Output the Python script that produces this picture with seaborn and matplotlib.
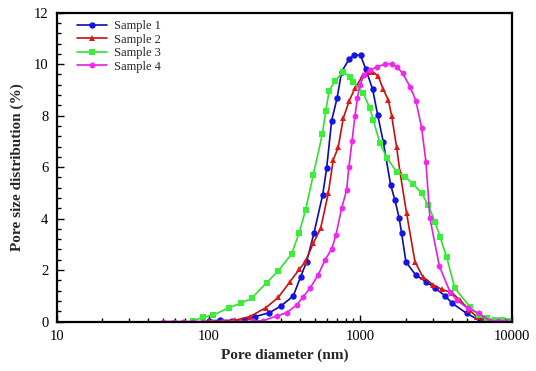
import numpy as np
import pandas as pd
import matplotlib
matplotlib.use("Agg")
import matplotlib.pyplot as plt
import seaborn as sns
from matplotlib.ticker import FixedLocator, FixedFormatter, MultipleLocator, LogLocator, NullFormatter

# ---------------- data ----------------
labels = ["Sample 1", "Sample 2", "Sample 3", "Sample 4"]

s1_x = [100, 119, 142, 170, 202, 251, 299, 361, 404, 442, 494, 564, 599, 646, 703, 752,
        844, 910, 1002, 1086, 1203, 1298, 1413, 1580, 1687, 1800, 1867, 1993, 2308,
        2700, 3100, 3600, 4018, 5000, 6100]
s1_y = [0.02, 0.05, 0.03, 0.05, 0.19, 0.34, 0.60, 0.99, 1.74, 2.32, 3.43, 4.92, 5.95, 7.80, 8.70, 9.71,
        10.20, 10.36, 10.34, 9.80, 9.02, 8.03, 6.99, 5.31, 4.72, 4.01, 3.43, 2.32, 1.81,
        1.55, 1.30, 1.00, 0.71, 0.32, 0.04]

s2_x = [100, 125, 150, 187, 239, 288, 344, 396, 433, 489, 547, 614, 662, 714, 771, 844, 920,
        1043, 1120, 1200, 1309, 1413, 1525, 1606, 1729, 1820, 2014, 2287, 2574, 3013,
        3424, 3985, 4518, 5203, 5818, 6433]
s2_y = [0.02, 0.03, 0.05, 0.19, 0.54, 0.94, 1.55, 2.03, 2.32, 3.04, 3.62, 4.98, 6.28, 6.77, 7.90, 8.58, 9.06,
        9.58, 9.71, 9.71, 9.54, 9.02, 8.61, 7.99, 6.79, 5.82, 4.20, 2.32, 1.74, 1.42,
        1.25, 1.12, 0.84, 0.45, 0.19, 0.09]

s3_x = [79, 92, 107, 137, 163, 192, 241, 288, 352, 394, 435, 489, 561, 591, 623, 680, 770, 853,
        897, 1043, 1155, 1215, 1343, 1500, 1728, 1964, 2228, 2531, 2795, 3093, 3337, 3690,
        4188, 5300, 6000, 6800, 7700, 8600, 9600]
s3_y = [0.03, 0.16, 0.25, 0.54, 0.71, 0.90, 1.51, 1.97, 2.62, 3.43, 4.33, 5.69, 7.28, 8.18, 8.97, 9.36, 9.69, 9.51,
        9.32, 8.87, 8.29, 7.83, 6.93, 6.34, 5.82, 5.63, 5.34, 4.98, 4.53, 3.88, 3.30, 2.52,
        1.29, 0.55, 0.25, 0.12, 0.06, 0.04, 0.02]

s4_x = [50, 59, 68, 79, 92, 106, 123, 142, 162, 196, 228, 281, 326, 380, 420, 465, 527, 584, 646,
        690, 752, 811, 840, 880, 920, 955, 993, 1055, 1155, 1291, 1449, 1603, 1729, 1895, 2119,
        2319, 2531, 2698, 2868, 3305, 3883, 4295, 5100, 6053, 7130, 8090, 9100]
s4_y = [0, 0, 0, 0, 0, 0, 0, 0, 0, 0.01, 0.03, 0.21, 0.34, 0.64, 0.96, 1.29, 1.81, 2.39, 2.81,
        3.36, 4.40, 5.11, 6.02, 7.00, 7.99, 8.67, 9.19, 9.58, 9.77, 9.90, 10.00, 10.01, 9.90, 9.65, 9.13,
        8.58, 7.51, 6.21, 4.01, 2.16, 1.16, 0.84, 0.51, 0.32, 0.02, 0.02, 0.02]

x_ticks = [10, 100, 1000, 10000]
x_tick_labels = ["10", "100", "1000", "10000"]
y_ticks = [0, 2, 4, 6, 8, 10, 12]

line_colors = ["#0c0ca8", "#c41010", "#30e030", "#e020e0"]
marker_colors = ["#1414e6", "#e01818", "#38f038", "#f028f0"]
markers = ["o", "^", "s", "h"]

# ---------------- plotting ----------------
sns.set_theme(style="white")
plt.rcParams["font.family"] = ["Liberation Serif", "DejaVu Serif"]

fig = plt.figure(figsize=(5.36, 3.71), dpi=100)
ax = fig.add_axes([0.1058, 0.1334, 0.8500, 0.8324])

series = [(s1_x, s1_y), (s2_x, s2_y), (s3_x, s3_y), (s4_x, s4_y)]
for (xs, ys), lab, lc, mc, mk in zip(series, labels, line_colors, marker_colors, markers):
    df = pd.DataFrame({"x": xs, "y": ys})
    sns.lineplot(data=df, x="x", y="y", ax=ax, color=lc, marker=mk, markersize=4.6,
                 markerfacecolor=mc, markeredgecolor=mc, markeredgewidth=0,
                 linewidth=1.2, label=lab, estimator=None, sort=True)

ax.set_xscale("log")
ax.set_xlim(10, 10000)
ax.set_ylim(0, 12)

ax.xaxis.set_major_locator(FixedLocator(x_ticks))
ax.xaxis.set_major_formatter(FixedFormatter(x_tick_labels))
ax.xaxis.set_minor_locator(LogLocator(base=10, subs=np.arange(2, 10), numticks=20))
ax.xaxis.set_minor_formatter(NullFormatter())
ax.yaxis.set_major_locator(FixedLocator(y_ticks))
ax.yaxis.set_minor_locator(MultipleLocator(0.4))

ax.tick_params(which="both", direction="in", top=False, right=False, left=True, bottom=True,
               width=1.0, colors="black")
ax.tick_params(which="major", length=5, labelsize=10.5, pad=6)
ax.tick_params(which="minor", length=3)

for sp in ax.spines.values():
    sp.set_color("black")
    sp.set_linewidth(1.6)

ax.set_xlabel("Pore diameter (nm)", fontsize=11, fontweight="bold", labelpad=4)
ax.set_ylabel("Pore size distribution (%)", fontsize=11, fontweight="bold", labelpad=7)

leg = ax.legend(loc="upper left", bbox_to_anchor=(0.028, 1.0), frameon=False, fontsize=9,
                handlelength=2.4, handletextpad=0.55, labelspacing=0.12, borderaxespad=0.2)

fig.savefig("out.png", dpi=100)
